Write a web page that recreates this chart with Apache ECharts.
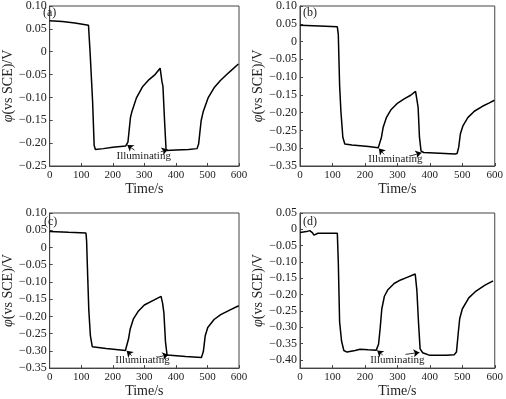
<!DOCTYPE html>
<html>
<head>
<meta charset="utf-8">
<script src="https://cdn.jsdelivr.net/npm/echarts@6/dist/echarts.min.js"></script>
<style>
  html, body { margin: 0; padding: 0; background: #fff; }
  #main { width: 506px; height: 399px; }
</style>
</head>
<body>
<div id="main"></div>
<script>
// time (s) and potential (V vs SCE)
var timeA = [0, 40, 80, 123, 128, 136, 141, 145, 170, 200, 241, 248, 256, 261, 275, 295, 315, 334, 350, 356, 359, 364, 369, 400, 440, 467, 472, 480, 487, 502, 521, 541, 561, 580, 598];
var potA = [0.068, 0.066, 0.063, 0.058, 0.0, -0.108, -0.205, -0.214, -0.212, -0.209, -0.206, -0.198, -0.144, -0.130, -0.101, -0.076, -0.061, -0.050, -0.036, -0.066, -0.076, -0.150, -0.216, -0.215, -0.214, -0.212, -0.202, -0.151, -0.130, -0.101, -0.079, -0.063, -0.050, -0.038, -0.027];

var timeB = [0, 60, 115, 118, 122, 126, 132, 138, 160, 211, 241, 246, 251, 256, 266, 281, 301, 321, 341, 356, 361, 364, 368, 373, 381, 431, 477, 484, 489, 494, 502, 517, 537, 562, 582, 599];
var potB = [0.046, 0.044, 0.0415, 0.02, -0.122, -0.196, -0.269, -0.288, -0.291, -0.295, -0.299, -0.295, -0.269, -0.242, -0.214, -0.191, -0.173, -0.161, -0.151, -0.140, -0.168, -0.186, -0.269, -0.308, -0.312, -0.314, -0.316, -0.315, -0.297, -0.260, -0.237, -0.214, -0.196, -0.182, -0.173, -0.165];

var timeC = [0, 60, 115, 117, 121, 124, 129, 135, 179, 240, 246, 250, 255, 265, 280, 300, 330, 353, 358, 362, 367, 372, 431, 481, 487, 493, 501, 521, 542, 572, 599];
var potC = [0.0466, 0.044, 0.042, 0.02, -0.097, -0.181, -0.256, -0.288, -0.293, -0.299, -0.295, -0.265, -0.237, -0.208, -0.186, -0.167, -0.153, -0.142, -0.162, -0.190, -0.274, -0.312, -0.316, -0.319, -0.302, -0.256, -0.232, -0.209, -0.195, -0.181, -0.169];

var timeD = [0, 5, 20, 30, 38, 43, 48, 55, 115, 118, 122, 128, 135, 145, 170, 185, 210, 235, 242, 247, 252, 260, 270, 290, 310, 330, 355, 360, 365, 370, 378, 400, 450, 475, 482, 488, 492, 500, 520, 540, 570, 595];
var potD = [-0.010, -0.010, -0.007, -0.004, -0.010, -0.018, -0.013, -0.012, -0.012, -0.10, -0.283, -0.342, -0.371, -0.376, -0.371, -0.367, -0.369, -0.370, -0.352, -0.303, -0.244, -0.205, -0.186, -0.166, -0.155, -0.147, -0.137, -0.186, -0.283, -0.366, -0.378, -0.386, -0.386, -0.384, -0.376, -0.313, -0.274, -0.244, -0.210, -0.191, -0.171, -0.158];

// "Illuminating" label position and arrow pairs [from, to] in data units
var noteA = [298, -0.228];
var arrowsA = [[[269, -0.2154], [246, -0.204]], [[352, -0.219], [374, -0.214]]];
var noteB = [294, -0.330];
var arrowsB = [[[259, -0.317], [243, -0.301]], [[339, -0.322], [374, -0.313]]];
var noteC = [294, -0.328];
var arrowsC = [[[260, -0.314], [244, -0.300]], [[340, -0.319], [376, -0.311]]];
var noteD = [300, -0.400];
var arrowsD = [[[255, -0.385], [238, -0.371]], [[325, -0.383], [368, -0.377]]];

var yTicksD = [0.05, 0, -0.05, -0.10, -0.15, -0.20, -0.25, -0.30, -0.35, -0.40];

var FONT = '"Liberation Serif", "DejaVu Serif", serif';
var INK = '#222';

function zip(ts, vs) {
    return ts.map(function (t, i) { return [t, vs[i]]; });
}

function fmt(v) {
    if (Math.abs(v) < 1e-9) return '0';
    return (v < 0 ? '\u2212' : '') + Math.abs(v).toFixed(2);
}

var grids = [
    {left: 40, top: 4, width: 199, height: 162},
    {left: 300, top: 4, width: 199, height: 162},
    {left: 41, top: 213, width: 198, height: 162},
    {left: 300, top: 213, width: 199, height: 162}
];

var yRanges = [
    {min: -0.25, max: 0.10, interval: 0.05},
    {min: -0.35, max: 0.10, interval: 0.05},
    {min: -0.35, max: 0.10, interval: 0.05},
    {min: -0.425, max: 0.05, custom: yTicksD}
];

var panels = [
    {name: '(a)', t: timeA, v: potA, note: noteA, arrows: arrowsA},
    {name: '(b)', t: timeB, v: potB, note: noteB, arrows: arrowsB},
    {name: '(c)', t: timeC, v: potC, note: noteC, arrows: arrowsC},
    {name: '(d)', t: timeD, v: potD, note: noteD, arrows: arrowsD}
];

var option = {
    animation: false,
    backgroundColor: '#fff',
    title: panels.map(function (p, i) {
        return {
            text: p.name,
            left: grids[i].left + 3,
            top: grids[i].top + 3,
            padding: 0,
            textStyle: {fontFamily: FONT, fontSize: 12, fontWeight: 'normal', color: INK}
        };
    }),
    grid: grids.map(function (g) {
        return Object.assign({show: true, borderColor: '#444', borderWidth: 1, backgroundColor: 'transparent'}, g);
    }),
    xAxis: grids.map(function (g, i) {
        return {
            gridIndex: i,
            type: 'value',
            min: 0, max: 600, interval: 100,
            name: 'Time/s',
            nameLocation: 'middle',
            nameGap: 13,
            nameTextStyle: {fontFamily: FONT, fontSize: 14, color: INK},
            axisLine: {onZero: false, lineStyle: {color: '#444', width: 1}},
            axisTick: {inside: true, length: 3, lineStyle: {color: '#444'}},
            axisLabel: {fontFamily: FONT, fontSize: 11, color: INK, margin: 4},
            splitLine: {show: false}
        };
    }),
    yAxis: yRanges.map(function (r, i) {
        var ax = {
            gridIndex: i,
            type: 'value',
            min: r.min, max: r.max,
            name: '{i|\u03c6}(vs SCE)/V',
            nameLocation: 'middle',
            nameRotate: 90,
            nameGap: 30,
            nameTextStyle: {
                fontFamily: FONT, fontSize: 14, color: INK,
                rich: {i: {fontFamily: FONT, fontSize: 14, fontStyle: 'italic', color: INK}}
            },
            axisLine: {onZero: false, lineStyle: {color: '#444', width: 1}},
            axisTick: {inside: true, length: 3, lineStyle: {color: '#444'}},
            axisLabel: {fontFamily: FONT, fontSize: 12, color: INK, margin: 3, formatter: fmt},
            splitLine: {show: false}
        };
        if (r.custom) {
            ax.axisLabel.customValues = r.custom;
            ax.axisTick.customValues = r.custom;
        } else {
            ax.interval = r.interval;
        }
        return ax;
    }),
    series: panels.map(function (p, i) {
        return {
            type: 'line',
            xAxisIndex: i,
            yAxisIndex: i,
            data: zip(p.t, p.v),
            showSymbol: false,
            lineStyle: {color: '#000', width: 1.5},
            markLine: {
                silent: true,
                symbol: ['none', 'arrow'],
                symbolSize: 6,
                label: {show: false},
                lineStyle: {color: '#000', width: 0.8, type: 'solid'},
                data: p.arrows.map(function (a) {
                    return [{coord: a[0]}, {coord: a[1]}];
                })
            },
            markPoint: {
                silent: true,
                symbol: 'circle',
                symbolSize: 1,
                itemStyle: {color: 'rgba(0,0,0,0)'},
                label: {show: true, position: 'inside', formatter: 'Illuminating', fontFamily: FONT, fontSize: 11, color: INK},
                data: [{coord: p.note}]
            }
        };
    })
};

var chart = echarts.init(document.getElementById('main'));
chart.setOption(option);
</script>
</body>
</html>
